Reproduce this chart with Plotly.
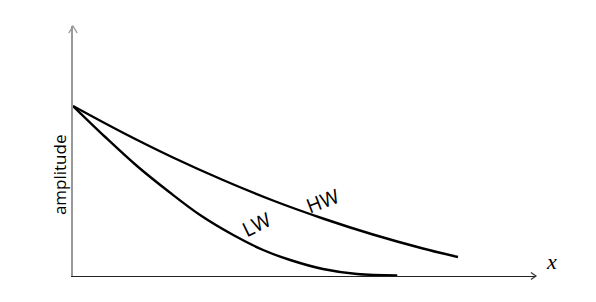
import plotly.graph_objects as go

# Data (arbitrary units)
hw_x = [0, 1.07, 2.14, 3.21, 4.28, 5.35, 6.42, 7.49, 8.24]
hw_y = [6.8, 5.73, 4.74, 3.84, 3.02, 2.30, 1.66, 1.10, 0.76]
lw_x = [0, 0.69, 1.37, 2.06, 2.72, 3.43, 4.07, 4.65, 5.35, 6.08, 6.94]
lw_y = [6.8, 5.56, 4.40, 3.36, 2.44, 1.64, 1.04, 0.64, 0.28, 0.08, 0.02]

labels = {"HW": (5.36, 3.02, -21), "LW": (3.92, 2.06, -26)}

fig = go.Figure()
fig.add_trace(go.Scatter(x=hw_x, y=hw_y, mode="lines",
                         line=dict(color="black", width=2.4, shape="spline", smoothing=1.0),
                         hoverinfo="skip"))
fig.add_trace(go.Scatter(x=lw_x, y=lw_y, mode="lines",
                         line=dict(color="black", width=2.4, shape="spline", smoothing=1.0),
                         hoverinfo="skip"))

for txt, (lx, ly, ang) in labels.items():
    fig.add_annotation(x=lx, y=ly, text=txt, showarrow=False, textangle=ang,
                       font=dict(family="Open Sans", size=20, color="black"))

# axis arrowheads (open chevrons)
fig.add_shape(type="path", xref="paper", yref="paper",
              path="M -0.009 0.972 L 0 1.0 L 0.009 0.972",
              line=dict(color="#999999", width=1.4))
fig.add_shape(type="path", xref="paper", yref="paper",
              path="M 0.989 0.014 L 1.0 0 L 0.989 -0.014",
              line=dict(color="#333333", width=1.2))

fig.add_annotation(xref="paper", yref="paper", x=-0.030, xanchor="center",
                   y=0.404, yanchor="middle", text="amplitude",
                   showarrow=False, textangle=-90,
                   font=dict(family="Open Sans", size=17, color="black"))
fig.add_annotation(xref="paper", yref="paper", x=1.0, xanchor="left", xshift=8, y=0,
                   text="<i>x</i>", showarrow=False,
                   font=dict(family="Liberation Serif", size=22, color="black"))

fig.update_xaxes(range=[0, 9.91], showline=True, linecolor="#222222", linewidth=1.2,
                 showgrid=False, zeroline=False, showticklabels=False, ticks="")
fig.update_yaxes(range=[0, 10], showline=True, linecolor="#999999", linewidth=2,
                 showgrid=False, zeroline=False, showticklabels=False, ticks="")
fig.update_layout(width=596, height=302, margin=dict(l=73, r=60, t=26, b=26),
                  plot_bgcolor="white", paper_bgcolor="white", showlegend=False)

fig.write_html("out.html")
